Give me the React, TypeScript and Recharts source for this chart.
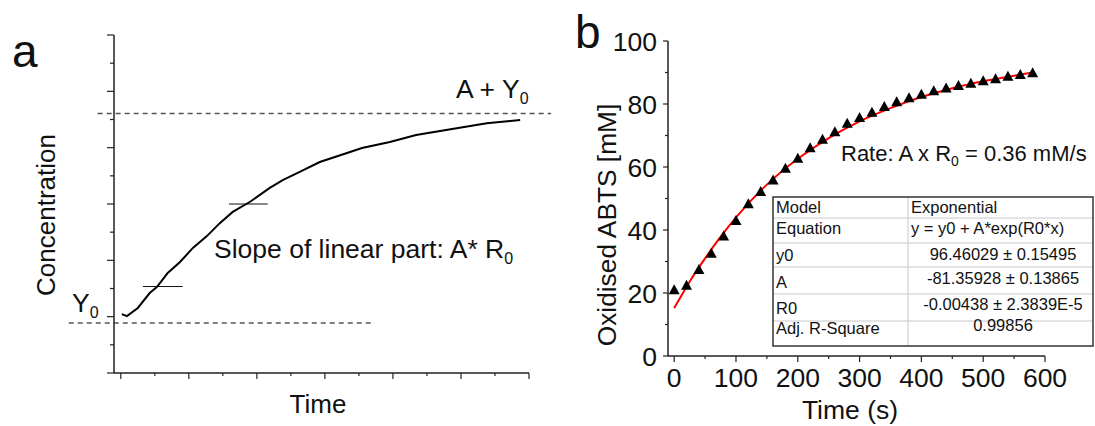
import React from 'react';
import { ComposedChart, Line, Scatter, XAxis, YAxis, ReferenceLine } from 'recharts';

const FONT = '"Liberation Sans", Arial, sans-serif';

// panel a: schematic progress curve (arbitrary units)
const timeA = [0.03, 0.18, 0.5, 0.85, 1.06, 1.38, 1.74, 2.12, 2.53, 2.91, 3.29, 3.79, 4.38, 4.76, 5.26, 5.85, 6.65, 7.09, 7.91, 8.68, 9.74, 10.76, 11.74];
const concA = [2.09, 2.02, 2.31, 2.84, 3.05, 3.55, 3.94, 4.44, 4.86, 5.32, 5.72, 6.07, 6.57, 6.85, 7.14, 7.49, 7.81, 7.99, 8.2, 8.45, 8.66, 8.87, 8.98];
const ticksA = [0, 1, 2, 3, 4, 5, 6, 7, 8, 9, 10, 11, 12];
const plateauA = 9.21;
const baseA = 1.775;
const slopeMarks = [
  { y: 3.07, from: 0.65, to: 1.82 },
  { y: 6.0, from: 3.18, to: 4.32 },
];

// panel b: measured points and exponential fit
const timeB = [0, 20, 40, 60, 80, 100, 120, 140, 160, 180, 200, 220, 240, 260, 280, 300, 320, 340, 360, 380, 400, 420, 440, 460, 480, 500, 520, 540, 560, 580];
const abtsB = [21.0, 22.5, 27.5, 32.6, 38.1, 43.0, 48.3, 52.2, 55.9, 59.6, 62.8, 66.1, 68.8, 71.2, 73.9, 75.7, 77.4, 79.2, 80.7, 82.0, 83.1, 84.2, 85.1, 85.9, 86.6, 87.4, 88.0, 88.8, 89.4, 89.9];
const fitTime = [0, 25, 50, 75, 100, 150, 200, 250, 300, 350, 400, 450, 500, 550, 580];
const fitVals = [15.2, 23.6, 31.0, 37.8, 44.0, 54.4, 62.6, 69.2, 74.5, 78.7, 82.2, 85.0, 87.2, 89.0, 90.0];
const xTicksB = [0, 50, 100, 150, 200, 250, 300, 350, 400, 450, 500, 550, 600];
const yTicksB = [0, 10, 20, 30, 40, 50, 60, 70, 80, 90, 100];

const tableRows = [
  ['Model', 'Exponential'],
  ['Equation', 'y = y0 + A*exp(R0*x)'],
  ['y0', '96.46029 \u00b1 0.15495'],
  ['A', '-81.35928 \u00b1 0.13865'],
  ['R0', '-0.00438 \u00b1 2.3839E-5'],
  ['Adj. R-Square', '0.99856'],
];

const dataA = timeA.map((t, i) => ({ t, c: concA[i] }));
const pointsB = timeB.map((x, i) => ({ x, y: abtsB[i] }));
const fitB = fitTime.map((x, i) => ({ x, y: fitVals[i] }));

const AXIS = '#222';

function makeTick(side: 'left' | 'bottom', isMajor: (v: number) => boolean, majorLen: number, minorLen: number, label: boolean) {
  return (props: any) => {
    const { x, y, payload } = props;
    const v = payload.value;
    const major = isMajor(v);
    const len = major ? majorLen : minorLen;
    if (side === 'left') {
      return (
        <g>
          <line x1={x} x2={x - len} y1={y} y2={y} stroke={AXIS} strokeWidth={1.2} />
          {label && major && (
            <text x={x - 11} y={y + 9.5} textAnchor="end" fontSize={26.5} fontFamily={FONT} fill="#111">
              {v}
            </text>
          )}
        </g>
      );
    }
    return (
      <g>
        <line x1={x} x2={x} y1={y} y2={y + len} stroke={AXIS} strokeWidth={1.2} />
        {label && major && (
          <text x={x} y={y + 31} textAnchor="middle" fontSize={26.5} fontFamily={FONT} fill="#111">
            {v}
          </text>
        )}
      </g>
    );
  };
}

function PanelA() {
  return (
    <ComposedChart width={560} height={426} data={dataA} margin={{ top: 35, right: 31, bottom: 52, left: 113 }}>
      <XAxis
        dataKey="t"
        type="number"
        domain={[-0.2, 12]}
        ticks={ticksA}
        interval={0}
        height={1}
        tickSize={0}
        tickMargin={0}
        axisLine={{ stroke: AXIS, strokeWidth: 1.5 }}
        tickLine={false}
        tick={makeTick('bottom', (v) => v % 2 === 0, 6, 3, false)}
      />
      <YAxis
        type="number"
        domain={[0, 12]}
        ticks={ticksA}
        interval={0}
        width={1}
        tickSize={0}
        tickMargin={0}
        axisLine={{ stroke: AXIS, strokeWidth: 1.5 }}
        tickLine={false}
        tick={makeTick('left', (v) => v % 2 === 0, 7, 4, false)}
      />
      <ReferenceLine
        segment={[{ x: -0.68, y: plateauA }, { x: 12.65, y: plateauA }]}
        ifOverflow="visible"
        stroke="#555"
        strokeWidth={1.5}
        strokeDasharray="5 4"
      />
      <ReferenceLine
        segment={[{ x: -1.53, y: baseA }, { x: 7.41, y: baseA }]}
        ifOverflow="visible"
        stroke="#555"
        strokeWidth={1.5}
        strokeDasharray="5 4"
      />
      {slopeMarks.map((m, i) => (
        <ReferenceLine key={i} segment={[{ x: m.from, y: m.y }, { x: m.to, y: m.y }]} ifOverflow="visible" stroke="#111" strokeWidth={1} />
      ))}
      <Line type="linear" dataKey="c" stroke="#000" strokeWidth={2} dot={false} activeDot={false} isAnimationActive={false} />
    </ComposedChart>
  );
}

const triangle = (props: any) => {
  const { cx, cy } = props;
  return <polygon points={`${cx},${cy - 5.5} ${cx - 5.5},${cy + 4.5} ${cx + 5.5},${cy + 4.5}`} fill="#000" />;
};

function PanelB() {
  return (
    <ComposedChart width={535} height={426} margin={{ top: 41, right: 50, bottom: 69, left: 107 }}>
      <XAxis
        dataKey="x"
        type="number"
        domain={[-10, 600]}
        ticks={xTicksB}
        interval={0}
        height={1}
        tickSize={0}
        tickMargin={0}
        axisLine={{ stroke: AXIS, strokeWidth: 1.5 }}
        tickLine={false}
        tick={makeTick('bottom', (v) => v % 100 === 0, 6, 3, true)}
      />
      <YAxis
        type="number"
        domain={[0, 100]}
        ticks={yTicksB}
        interval={0}
        width={1}
        tickSize={0}
        tickMargin={0}
        axisLine={{ stroke: AXIS, strokeWidth: 1.5 }}
        tickLine={false}
        tick={makeTick('left', (v) => v % 20 === 0, 5, 3, true)}
      />
      <Scatter data={pointsB} dataKey="y" shape={triangle} isAnimationActive={false} />
      <Line data={fitB} type="monotone" dataKey="y" stroke="#ff0000" strokeWidth={2} dot={false} activeDot={false} isAnimationActive={false} />
    </ComposedChart>
  );
}

function Overlay() {
  const rowLines = [197, 218, 243, 267, 294, 321, 346];
  const leftBase = [213, 234, 261, 288, 314, 334];
  const rightBase = [213, 234, 260, 284, 310, 331];
  return (
    <svg width={1095} height={426} style={{ position: 'absolute', left: 0, top: 0, pointerEvents: 'none' }} fontFamily={FONT} fill="#111">
      {/* panel a texts */}
      <text x={12} y={67} fontSize={46}>a</text>
      <text x={55} y={215} fontSize={26} textAnchor="middle" transform="rotate(-90 55 215)">Concentration</text>
      <text x={318} y={413} fontSize={26} textAnchor="middle">Time</text>
      <text x={72} y={312} fontSize={26.5}>Y<tspan fontSize={16} dy={6}>0</tspan></text>
      <text x={456} y={98} fontSize={26.5}>A + Y<tspan fontSize={16} dy={6}>0</tspan></text>
      <text x={214} y={258} fontSize={26.5}>Slope of linear part: A* R<tspan fontSize={16} dy={6}>0</tspan></text>

      {/* panel b texts */}
      <text x={575} y={48} fontSize={46}>b</text>
      <text x={616} y={225} fontSize={26.3} textAnchor="middle" transform="rotate(-90 616 225)">Oxidised ABTS [mM]</text>
      <text x={850} y={419} fontSize={26.5} textAnchor="middle">Time (s)</text>
      <text x={841} y={161} fontSize={22}>Rate: A x R<tspan fontSize={14} dy={5}>0</tspan><tspan dy={-5}> = 0.36 mM/s</tspan></text>

      {/* fit table */}
      <rect x={773} y={197} width={320} height={149} fill="#fff" stroke="none" />
      {rowLines.slice(1, -1).map((y) => (
        <line key={y} x1={773} x2={1093} y1={y} y2={y} stroke="#c8c8c8" strokeWidth={1} />
      ))}
      <line x1={908} x2={908} y1={197} y2={346} stroke="#c8c8c8" strokeWidth={1} />
      <rect x={773} y={197} width={320} height={149} fill="none" stroke="#333" strokeWidth={1.5} />
      {tableRows.map((r, i) => (
        <g key={r[0]} fontSize={16.5}>
          <text x={776} y={leftBase[i]}>{r[0]}</text>
          {i < 2 ? (
            <text x={911} y={rightBase[i]}>{r[1]}</text>
          ) : (
            <text x={1003} y={rightBase[i]} textAnchor="middle">{r[1]}</text>
          )}
        </g>
      ))}
    </svg>
  );
}

export default function App() {
  return (
    <div style={{ position: 'absolute', left: 0, top: 0, width: 1095, height: 426, background: '#fff', overflow: 'hidden' }}>
      <div style={{ position: 'absolute', left: 0, top: 0 }}>
        <PanelA />
      </div>
      <div style={{ position: 'absolute', left: 560, top: 0 }}>
        <PanelB />
      </div>
      <Overlay />
    </div>
  );
}
